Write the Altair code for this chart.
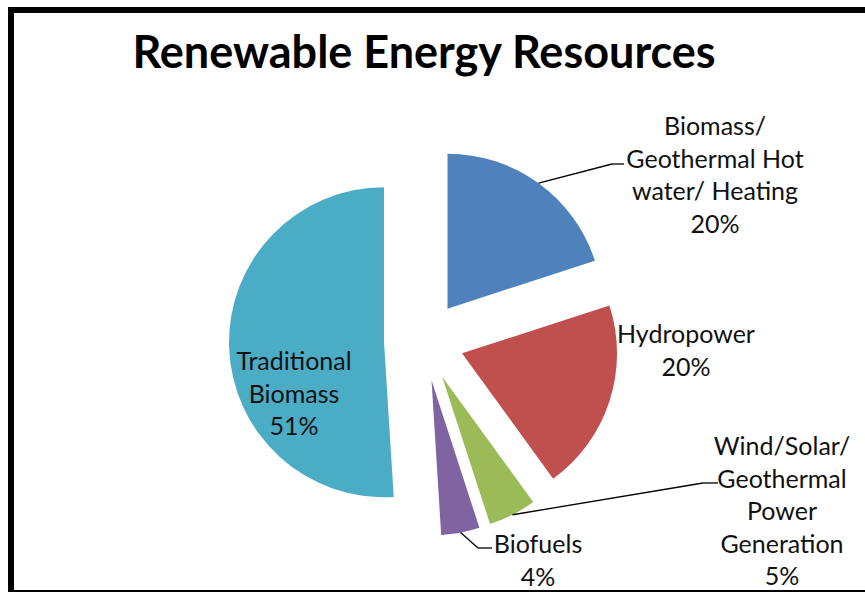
import math
import altair as alt
import pandas as pd

# ---------------- data ----------------
title_text = "Renewable Energy Resources"
categories = [
    "Biomass/ Geothermal Hot water/ Heating",
    "Hydropower",
    "Wind/Solar/ Geothermal Power Generation",
    "Biofuels",
    "Traditional Biomass",
]
label_lines = [
    "Biomass/\nGeothermal Hot\nwater/ Heating",
    "Hydropower",
    "Wind/Solar/\nGeothermal\nPower\nGeneration",
    "Biofuels",
    "Traditional\nBiomass",
]
values = [20, 20, 5, 4, 51]
colors = ["#4F81BD", "#C0504D", "#9BBB59", "#8064A2", "#4BACC6"]

# ---------------- layout (positions / styles) ----------------
W, H = 865, 592
CX, CY = 424, 341
RADIUS = 155
EXPLODE = 40
label_x = [715, 686, 782, 538, 294]
label_y = [127, 335, 447, 545, 362]   # first line of each label
elbow_x = [612, None, 703, 478, None]
elbow_y = [164, None, 483, 548, None]
end_x = [624, None, 718, 492, None]
FONT = "Lato"

df = pd.DataFrame({
    "category": categories,
    "label": label_lines,
    "value": values,
    "order": list(range(len(categories))),
    "lx": label_x,
    "ly": label_y,
    "ex": elbow_x,
    "ey": elbow_y,
    "tx": end_x,
})

color = alt.Color("category:N", scale=alt.Scale(domain=categories, range=colors), legend=None)

base = (
    alt.Chart(df)
    .transform_joinaggregate(total="sum(value)")
    .transform_window(cum="sum(value)", sort=[alt.SortField("order")], frame=[None, 0])
    .transform_calculate(
        f0="(datum.cum - datum.value) / datum.total",
        f1="datum.cum / datum.total",
        mid="2 * PI * (datum.cum - datum.value / 2) / datum.total",
    )
    .transform_calculate(
        px=f"{CX} + {EXPLODE} * sin(datum.mid)",
        py=f"{CY} - {EXPLODE} * cos(datum.mid)",
    )
    .transform_calculate(
        ax=f"datum.px + {RADIUS} * sin(datum.mid)",
        ay=f"datum.py - {RADIUS} * cos(datum.mid)",
        txt="datum.label + '\\n' + format(datum.value / datum.total, '.0%')",
    )
)

arcs = base.mark_arc(radius=RADIUS, stroke=None).encode(
    theta=alt.Theta("f0:Q", scale=alt.Scale(domain=[0, 1], range=[0, 2 * math.pi]), stack=False),
    theta2="f1:Q",
    x=alt.X("px:Q", scale=None, axis=None, stack=False),
    y=alt.Y("py:Q", scale=None, axis=None, stack=False),
    color=color,
)

lead = base.transform_filter("isValid(datum.ex)")
leader1 = lead.mark_rule(color="#000000", strokeWidth=1.3).encode(
    x=alt.X("ax:Q", scale=None, axis=None),
    y=alt.Y("ay:Q", scale=None, axis=None),
    x2="ex:Q",
    y2="ey:Q",
)
leader2 = lead.mark_rule(color="#000000", strokeWidth=1.3).encode(
    x=alt.X("ex:Q", scale=None, axis=None),
    y=alt.Y("ey:Q", scale=None, axis=None),
    x2="tx:Q",
    y2="ey:Q",
)

labels = base.mark_text(
    font=FONT, fontSize=25, lineBreak="\n", lineHeight=32.5,
    align="center", baseline="middle", color="#111111",
).encode(
    x=alt.X("lx:Q", scale=None, axis=None),
    y=alt.Y("ly:Q", scale=None, axis=None),
    text="txt:N",
)

title = alt.Chart(pd.DataFrame({"t": [title_text]})).mark_text(
    font=FONT, fontSize=45, fontWeight="bold", align="center", baseline="alphabetic", color="#000000",
).encode(
    x=alt.value(424),
    y=alt.value(68),
    text="t:N",
)

frame = alt.Chart(pd.DataFrame({"f": [0]})).mark_rect(
    fill=None, stroke="#000000", strokeWidth=6,
).encode(
    x=alt.value(11), x2=alt.value(900), y=alt.value(10), y2=alt.value(593),
)

chart = (
    alt.layer(arcs, leader1, leader2, labels, title, frame)
    .properties(width=W, height=H, autosize="none", padding=0, background="white")
    .configure_view(stroke=None)
)

chart.save("out.html", embed_options={"renderer": "svg", "actions": False})
